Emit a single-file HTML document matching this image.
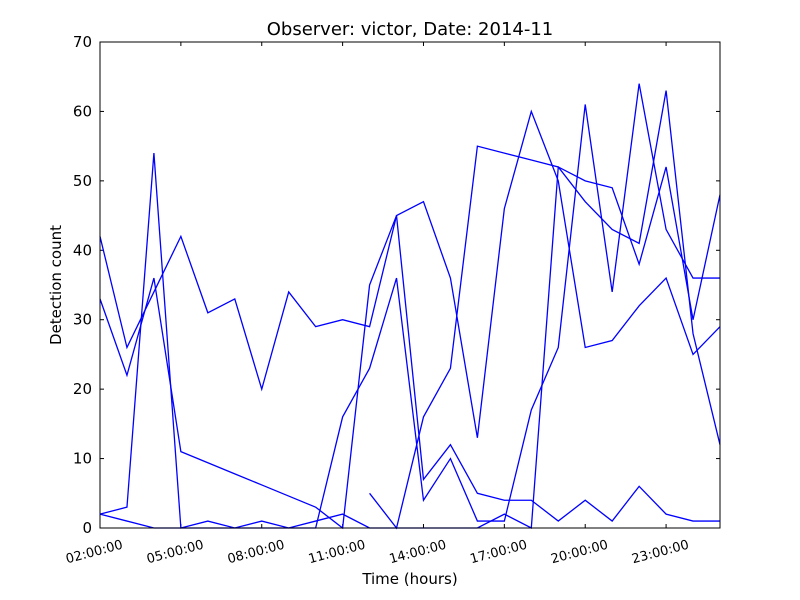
<!DOCTYPE html>
<html><head><meta charset="utf-8"><style>
body{margin:0;background:#fff;}
svg{display:block;font-family:"DejaVu Sans","Liberation Sans",sans-serif;}
</style></head><body>
<svg id="chart" width="800" height="600" viewBox="0 0 800 600">
<rect width="800" height="600" fill="#fff"/>
<text x="410" y="35" font-size="18" text-anchor="middle">Observer: victor, Date: 2014-11</text>
<text x="410" y="584" font-size="15" text-anchor="middle">Time (hours)</text>
<text x="61" y="285" font-size="15" text-anchor="middle" transform="rotate(-90 61 285)">Detection count</text>
<g id="ticks"></g>
<g id="series"></g>
<rect x="100" y="42" width="620" height="486" fill="none" stroke="#000" stroke-width="1"/>
</svg>
<script>
const xTickLabels = ["02:00:00","05:00:00","08:00:00","11:00:00","14:00:00","17:00:00","20:00:00","23:00:00"];
const xTickIndex = [0,3,6,9,12,15,18,21];
const yTicks = [0,10,20,30,40,50,60,70];
const seriesA = [42,26,34,42,31,33,20,34,29,30,29,45,47,36,13,46,60,50,26,27,32,36,25,29];
const seriesB = [33,22,36,11,9.4,7.8,6.2,4.6,3,0,35,45,7,12,5,4,4,1,4,1,6,2,1,1];
const seriesC = [2,3,54,0,0,0,0,0,0,16,23,36,4,10,1,1,17,26,61,34,64,43,36,36];
const seriesD = [2,1,0,0,1,0,1,0,1,2,0,0,0,0,0,2,0,52,50,49,38,52,30,48];
const seriesE = [null,null,null,null,null,null,null,null,null,null,5,0,16,23,55,54,53,52,47,43,41,63,28,12];
const allSeries = [seriesA,seriesB,seriesC,seriesD,seriesE];

const NS = "http://www.w3.org/2000/svg";
const X0=100, X1=720, Y0=528, Y1=42, NPTS=24, YMAX=70;
function xs(i){return X0 + i*(X1-X0)/(NPTS-1);}
function ys(v){return Y0 - v*(Y0-Y1)/YMAX;}

const tg = document.getElementById('ticks');
yTicks.forEach(v=>{
  const y=ys(v);
  [[X0,X0+4],[X1,X1-4]].forEach(p=>{
    const l=document.createElementNS(NS,'line');
    l.setAttribute('x1',p[0]);l.setAttribute('x2',p[1]);l.setAttribute('y1',y);l.setAttribute('y2',y);
    l.setAttribute('stroke','#000');
    
    
    tg.appendChild(l);
  });
  const t=document.createElementNS(NS,'text');
  t.setAttribute('x',X0-8);t.setAttribute('y',y+5);t.setAttribute('font-size','15');t.setAttribute('text-anchor','end');
  t.textContent=v;
  
  
  tg.appendChild(t);
});
xTickIndex.forEach((idx,k)=>{
  const x=xs(idx);
  [[Y0,Y0-4],[Y1,Y1+4]].forEach(p=>{
    const l=document.createElementNS(NS,'line');
    l.setAttribute('x1',x);l.setAttribute('x2',x);l.setAttribute('y1',p[0]);l.setAttribute('y2',p[1]);
    l.setAttribute('stroke','#000');
    
    
    tg.appendChild(l);
  });
  const t=document.createElementNS(NS,'text');
  const tx=x-6, ty=556;
  t.setAttribute('x',tx);t.setAttribute('y',ty);t.setAttribute('font-size','13');t.setAttribute('text-anchor','middle');
  t.setAttribute('transform','rotate(-15 '+tx+' '+(ty-5)+')');
  t.textContent=xTickLabels[k];
  
  
  tg.appendChild(t);
});

const sg=document.getElementById('series');
allSeries.forEach((s,si)=>{
  let d='', pen=false;
  s.forEach((v,i)=>{
    if(v===null){pen=false;return;}
    d += (pen?'L':'M') + xs(i).toFixed(2)+','+ys(v).toFixed(2)+' ';
    pen=true;
  });
  const p=document.createElementNS(NS,'path');
  p.setAttribute('d',d);p.setAttribute('fill','none');p.setAttribute('stroke','#0000ff');p.setAttribute('stroke-width','1.3');
  p.setAttribute('stroke-linejoin','miter');
  
  
  sg.appendChild(p);
});
</script>
</body></html>
